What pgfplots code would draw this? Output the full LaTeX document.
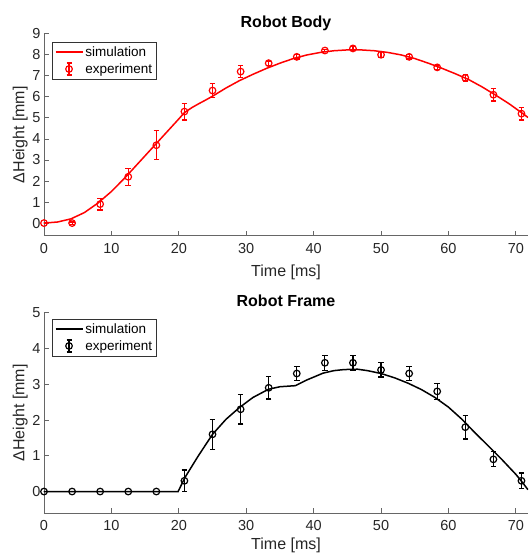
\documentclass[border=0pt]{standalone}
\usepackage{fontspec}
\setmainfont{Liberation Sans}
\usepackage{pgfplots}
\pgfplotsset{compat=1.18}
\usepackage{pgfplotstable}

\pgfplotstableread{
x y
0 0
2 0.05
4 0.2
6 0.5
8 0.95
10 1.5
12 2.15
14 2.85
16 3.55
18 4.25
20 4.95
20.83 5.25
22 5.5
23 5.68
24 5.85
25 6.03
27 6.42
29 6.77
31 7.07
33 7.35
35 7.6
37 7.82
39 7.99
41 8.11
43 8.19
45 8.23
47 8.23
49 8.19
51 8.11
53 7.99
55 7.82
57 7.6
59 7.36
61 7.1
63 6.82
65 6.47
67 6.08
69 5.67
71 5.21
71.8 5.02
}\topsim

\pgfplotstableread{
x y e
0 0 0
4.17 0 0.05
8.33 0.9 0.28
12.5 2.2 0.4
16.67 3.7 0.69
20.83 5.3 0.4
25 6.3 0.35
29.17 7.2 0.3
33.33 7.6 0.1
37.5 7.9 0.1
41.67 8.2 0.05
45.83 8.3 0.1
50 8.0 0.15
54.17 7.9 0.1
58.33 7.4 0.1
62.5 6.9 0.15
66.67 6.1 0.3
70.83 5.2 0.3
}\topexp

\pgfplotstableread{
x y
0 0
19.9 0
20.9 0.39
22.9 1.0
25 1.6
27 2.02
29 2.35
31 2.63
33.3 2.86
35 2.93
37.3 2.96
39 3.12
41.4 3.31
43 3.38
44.5 3.41
46.5 3.42
48 3.38
50 3.3
52 3.18
54 3.03
56 2.85
58 2.63
60 2.36
62 2.02
64 1.63
66 1.26
68 0.88
70 0.48
71 0.25
71.8 0.05
}\botsim

\pgfplotstableread{
x y e
0 0 0
4.17 0 0
8.33 0 0
12.5 0 0
16.67 0 0
20.83 0.3 0.3
25 1.6 0.42
29.17 2.3 0.41
33.33 2.9 0.31
37.5 3.3 0.2
41.67 3.6 0.21
45.83 3.6 0.2
50 3.4 0.2
54.17 3.3 0.2
58.33 2.8 0.22
62.5 1.8 0.33
66.67 0.9 0.21
70.83 0.3 0.22
}\botexp

\pgfplotsset{
  every axis title shift=0pt,
  myaxis/.style={
    scale only axis, width=484pt,
    xmin=0, xmax=71.8, ymin=-0.6,
    axis x line*=bottom, axis y line*=left,
    axis line style={-, draw=black!60, line width=0.8pt},
    tick align=inside, major tick length=5pt,
    tick style={draw=black!60, line width=0.8pt},
    xtick={0,10,...,70},
    /pgf/number format/assume math mode=true,
    ticklabel style={font=\fontsize{14.5}{17}\selectfont, text=black!85},
    xticklabel style={yshift=-4pt},
    label style={font=\fontsize{16}{18}\selectfont, text=black!85},
    xlabel style={at={(axis description cs:0.5,0)}, anchor=base, yshift=-41pt},
    ylabel style={at={(axis description cs:-0.0403,0.5)}, anchor=base, rotate=0},
    title style={font=\bfseries\fontsize{16}{18}\selectfont, at={(axis description cs:0.5,1)}, anchor=base, yshift=6pt},
    legend style={anchor=north west, draw=black!80, line width=0.6pt,
      font=\fontsize{13.5}{15}\selectfont, inner xsep=2.5pt, inner ysep=2.5pt,
      row sep=1.5pt},
    legend cell align=left,
    xlabel={Time [ms]},
    ylabel={ΔHeight [mm]},
  }
}

\begin{document}
\begin{tikzpicture}[x=1pt,y=1pt]
\begin{axis}[myaxis, at={(44pt,317.3pt)}, anchor=south west, height=202pt,
  ymax=9, ytick={0,1,...,9}, title={Robot Body},
  legend style={at={(axis description cs:0.0165,0.960)}}]
\addplot[red, line width=1.5pt, no markers,
  legend image code/.code={\draw[red, line width=1.5pt] (0pt,0pt) -- (27pt,0pt);}]
  table[x=x,y=y] {\topsim};
\addlegendentry{simulation}
\addplot[red, only marks, mark=o, mark size=3.3pt, mark options={line width=1.2pt},
  legend image code/.code={
    \draw[red, line width=1.2pt] (13.5pt,-6pt) -- (13.5pt,6pt)
      (11pt,-6pt) -- (16pt,-6pt) (11pt,6pt) -- (16pt,6pt);
    \draw[red, line width=1.2pt] (13.5pt,0pt) circle (3.3pt);},
  error bars/.cd, y dir=both, y explicit,
  error bar style={line width=1.2pt, red},
  error mark options={rotate=90, red, line width=1.2pt, mark size=2.8pt}]
  table[x=x,y=y,y error=e] {\topexp};
\addlegendentry{experiment}
\end{axis}

\begin{axis}[myaxis, at={(44pt,40pt)}, anchor=south west, height=200.3pt,
  ymax=5, ytick={0,1,...,5}, title={Robot Frame},
  xlabel style={yshift=4.5pt},
  legend style={at={(axis description cs:0.0165,0.970)}}]
\addplot[black, line width=1.5pt, no markers,
  legend image code/.code={\draw[black, line width=1.5pt] (0pt,0pt) -- (27pt,0pt);}]
  table[x=x,y=y] {\botsim};
\addlegendentry{simulation}
\addplot[black, only marks, mark=o, mark size=3.3pt, mark options={line width=1.2pt},
  legend image code/.code={
    \draw[black, line width=1.2pt] (13.5pt,-6pt) -- (13.5pt,6pt)
      (11pt,-6pt) -- (16pt,-6pt) (11pt,6pt) -- (16pt,6pt);
    \draw[black, line width=1.2pt] (13.5pt,0pt) circle (3.3pt);},
  error bars/.cd, y dir=both, y explicit,
  error bar style={line width=1.2pt, black},
  error mark options={rotate=90, black, line width=1.2pt, mark size=2.8pt}]
  table[x=x,y=y,y error=e] {\botexp};
\addlegendentry{experiment}
\end{axis}
\pgfresetboundingbox
\path[use as bounding box] (0pt,0pt) rectangle (528pt,553pt);
\end{tikzpicture}
\end{document}
